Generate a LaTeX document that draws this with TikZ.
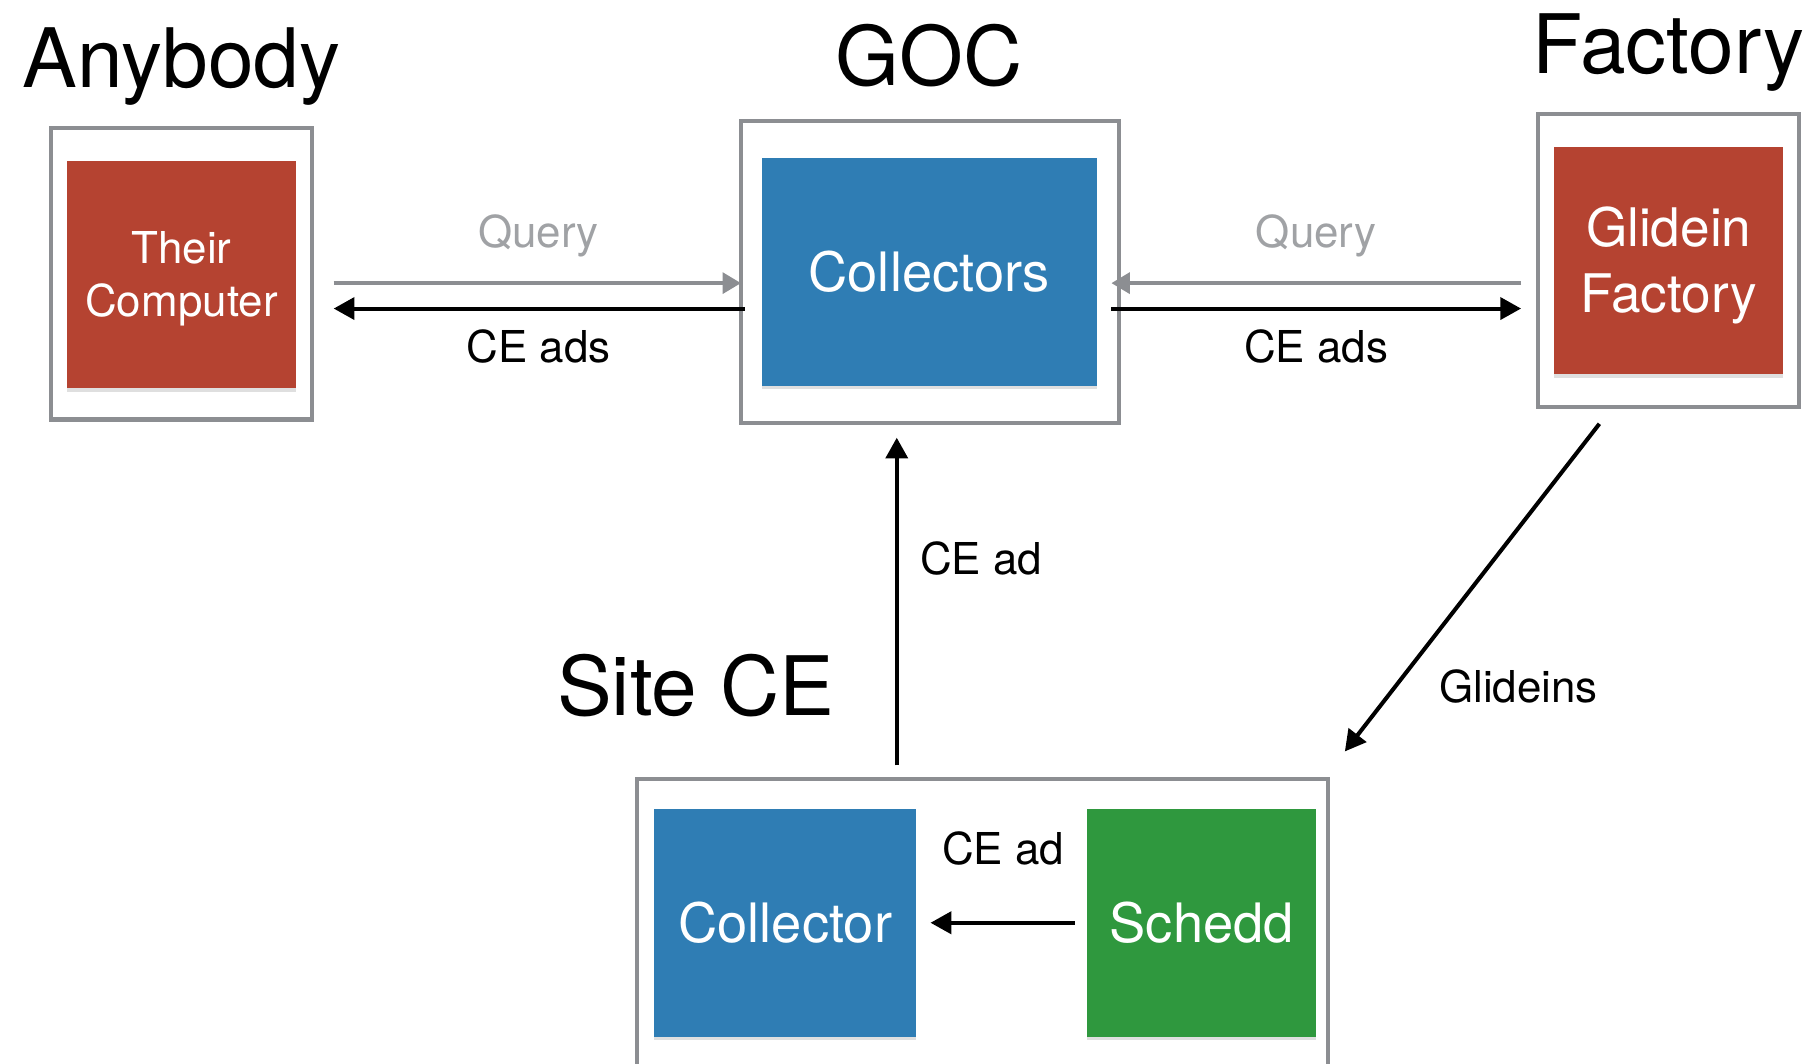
\documentclass[tikz,border=0pt]{standalone}
\usepackage{fontspec}
\setmainfont{TeX Gyre Heros}
\usetikzlibrary{arrows.meta,calc,shadows}
\definecolor{boxred}{RGB}{181,67,49}
\definecolor{boxblue}{RGB}{47,125,180}
\definecolor{boxgreen}{RGB}{47,152,62}
\definecolor{framegray}{RGB}{140,142,146}
\definecolor{querygray}{RGB}{160,162,165}
\newcommand\myfs[2]{\fontsize{#1pt}{#2pt}\selectfont}
\begin{document}
\begin{tikzpicture}[x=1pt,y=-1pt,
  frame/.style={draw=framegray, line width=3.5pt, inner sep=0pt, fill=none},
  card/.style={draw=none, text=white, inner sep=0pt, align=center,
    drop shadow={shadow xshift=0pt, shadow yshift=-3pt, opacity=0.25}},
  title/.style={anchor=base, inner sep=0pt, font=\myfs{71}{80}},
  lbl/.style={anchor=base, inner sep=0pt, font=\myfs{38}{44}},
  blk/.style={draw=black, line width=3.5pt, -{Triangle[length=18pt,width=19pt]}},
  gry/.style={draw=framegray, line width=3.5pt, -{Triangle[length=16pt,width=18pt]}}]
\useasboundingbox (0,0) rectangle (1568,920);
\clip (0,0) rectangle (1568,920);

% titles
\node[title] (tAny) at (157,76) {Anybody};
\node[title] (tGoc) at (804,74) {GOC};
\node[title] (tFac) at (1444,64) {Factory};
\node[title] (tSite) at (602,619) {Site CE};

% boxes
\node[frame, minimum width=226pt, minimum height=252pt] (anyOuter) at (157,237) {};
\node[card, fill=boxred, minimum width=198pt, minimum height=197pt, font=\myfs{38}{46}] (tc) at (157,237.5) {\rule{0pt}{35pt}Their\\Computer};

\node[frame, minimum width=327pt, minimum height=261pt] (gocOuter) at (804.5,235.5) {};
\node[card, fill=boxblue, minimum width=290pt, minimum height=197pt, font=\myfs{47}{55}] (coll) at (804,235.5) {Collectors};

\node[frame, minimum width=226pt, minimum height=253pt] (facOuter) at (1444,225.5) {};
\node[card, fill=boxred, minimum width=198pt, minimum height=197pt, font=\myfs{46}{57}] (gf) at (1444,225.5) {\rule{0pt}{43pt}Glidein\\Factory};

\node[frame, minimum width=598pt, minimum height=266pt] (siteOuter) at (850,807) {};
\node[card, fill=boxblue, minimum width=227pt, minimum height=197pt, font=\myfs{47}{55}] (collector) at (679.5,798.5) {Collector};
\node[card, fill=boxgreen, minimum width=198pt, minimum height=197pt, font=\myfs{47}{55}] (schedd) at (1040,798.5) {Schedd};

% helper rows / columns
\coordinate (rowQ) at (0,245);
\coordinate (rowA) at (0,267);
\coordinate (colV) at (776,0);

% connectors
\draw[gry] ($(anyOuter.east |- rowQ)+(17,0)$) -- ($(gocOuter.west |- rowQ)+(2,0)$);
\draw[blk] ($(gocOuter.west |- rowA)+(5,0)$) -- ($(anyOuter.east |- rowA)+(17,0)$);
\draw[gry] ($(facOuter.west |- rowQ)+(-13,0)$) -- ($(gocOuter.east |- rowQ)+(-8,0)$);
\draw[blk] ($(gocOuter.east |- rowA)+(-8,0)$) -- ($(facOuter.west |- rowA)+(-13,0)$);
\draw[blk] ($(siteOuter.north -| colV)+(0,-10)$) -- ($(gocOuter.south -| colV)+(0,11)$);
\draw[blk] ($(facOuter.south)+(-60,13)$) -- ($(siteOuter.north east)+(13,-22)$);
\draw[blk] ($(schedd.west)+(-11,0)$) -- ($(collector.east)+(12,0)$);

% labels
\node[lbl, text=querygray] (lq1) at (466,214) {Query};
\node[lbl] (la1) at (466,314) {CE ads};
\node[lbl, text=querygray] (lq2) at (1139,214) {Query};
\node[lbl] (la2) at (1139,314) {CE ads};
\node[lbl] (lv) at (849,497) {CE ad};
\node[lbl] (lg) at (1314,608) {Glideins};
\node[lbl] (li) at (868,748) {CE ad};
\end{tikzpicture}
\end{document}
